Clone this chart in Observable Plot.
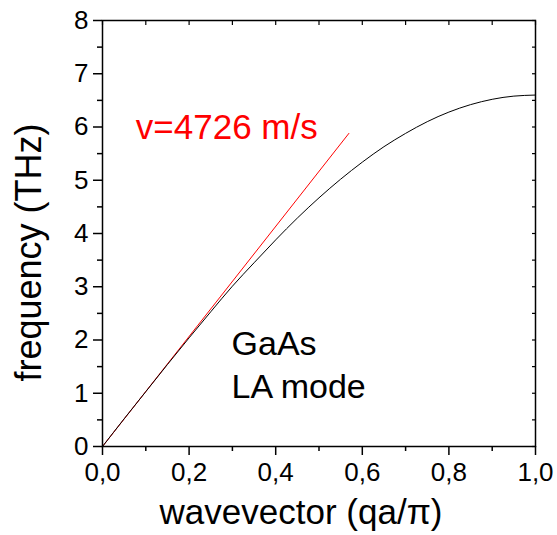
<!DOCTYPE html>
<html>
<head>
<meta charset="utf-8">
<script src="https://cdn.jsdelivr.net/npm/d3@7"></script>
<script src="https://cdn.jsdelivr.net/npm/@observablehq/plot@0.6"></script>
<style>
  html, body { margin: 0; padding: 0; background: white; }
</style>
</head>
<body>
<div id="chart"></div>
<script>
// LA branch of GaAs
const wavevector = [0, 0.05, 0.1, 0.15, 0.2, 0.25, 0.3, 0.35, 0.4, 0.45, 0.5, 0.55, 0.6, 0.65, 0.7, 0.75, 0.8, 0.85, 0.9, 0.95, 1.0];
const frequency  = [0, 0.52, 1.03, 1.54, 2.04, 2.53, 3.01, 3.45, 3.88, 4.29, 4.67, 5.02, 5.34, 5.63, 5.88, 6.10, 6.28, 6.42, 6.52, 6.58, 6.60];
// sound-velocity tangent line
const tangentQ = [0, 0.569];
const tangentF = [0, 5.88];

const xTicks = [0, 0.2, 0.4, 0.6, 0.8, 1.0];
const xTickLabels = ["0,0", "0,2", "0,4", "0,6", "0,8", "1,0"];
const xMinor = [0.1, 0.3, 0.5, 0.7, 0.9];
const yTicks = [0, 1, 2, 3, 4, 5, 6, 7, 8];
const yTickLabels = ["0", "1", "2", "3", "4", "5", "6", "7", "8"];
const yMinor = [0.5, 1.5, 2.5, 3.5, 4.5, 5.5, 6.5, 7.5];

const xTitle = "wavevector (qa/π)";
const yTitle = "frequency (THz)";
const velocityLabel = "v=4726 m/s";
const materialLabel = "GaAs";
const modeLabel = "LA mode";

const curve = wavevector.map((q, i) => ({q, f: frequency[i]}));
const tangent = tangentQ.map((q, i) => ({q, f: tangentF[i]}));

const chart = Plot.plot({
  width: 557,
  height: 535,
  marginLeft: 102,
  marginRight: 22,
  marginTop: 20,
  marginBottom: 89,
  style: {fontFamily: "'Liberation Sans', Arial, sans-serif", background: "white", color: "black"},
  x: {domain: [0, 1]},
  y: {domain: [0, 8]},
  marks: [
    Plot.line(tangent, {x: "q", y: "f", stroke: "#ff0000", strokeWidth: 1}),
    Plot.line(curve, {x: "q", y: "f", curve: "natural", stroke: "black", strokeWidth: 1}),
    // bottom axis
    Plot.axisX({anchor: "bottom", ticks: xTicks, tickSize: 9, tickPadding: 7, strokeWidth: 1.5,
      tickFormat: d => xTickLabels[xTicks.indexOf(d)], fontSize: 26, label: null}),
    Plot.axisX({anchor: "bottom", ticks: xMinor, tickSize: 5, strokeWidth: 1.5, tickFormat: () => "", label: null}),
    // top inward ticks
    Plot.axisX({anchor: "top", ticks: xTicks.concat(xMinor), tickSize: -4, strokeWidth: 1.2, tickFormat: () => "", label: null}),
    // left axis
    Plot.axisY({anchor: "left", ticks: yTicks, tickSize: 9, tickPadding: 5, strokeWidth: 1.5,
      tickFormat: d => yTickLabels[yTicks.indexOf(d)], fontSize: 26, label: null}),
    Plot.axisY({anchor: "left", ticks: yMinor, tickSize: 5, strokeWidth: 1.5, tickFormat: () => "", label: null}),
    // right inward ticks
    Plot.axisY({anchor: "right", ticks: yTicks.concat(yMinor), tickSize: -4, strokeWidth: 1.2, tickFormat: () => "", label: null}),
    Plot.frame({stroke: "black", strokeWidth: 1.5}),
    // axis titles
    Plot.text([xTitle], {frameAnchor: "bottom", text: d => d, textAnchor: "middle", dx: -18, dy: 66, fontSize: 35, fill: "black", lineAnchor: "middle"}),
    Plot.text([yTitle], {frameAnchor: "left", text: d => d, textAnchor: "middle", rotate: -90, dx: -73, dy: 19, fontSize: 36, fill: "black", lineAnchor: "middle"}),
    // annotations
    Plot.text([velocityLabel], {x: 0.077, y: 5.99, text: d => d, textAnchor: "start", fontSize: 35, fill: "#ff0000"}),
    Plot.text([materialLabel], {x: 0.298, y: 1.93, text: d => d, textAnchor: "start", fontSize: 34, fill: "black"}),
    Plot.text([modeLabel], {x: 0.298, y: 1.11, text: d => d, textAnchor: "start", fontSize: 34, fill: "black"})
  ]
});
document.getElementById("chart").appendChild(chart);
</script>
</body>
</html>
